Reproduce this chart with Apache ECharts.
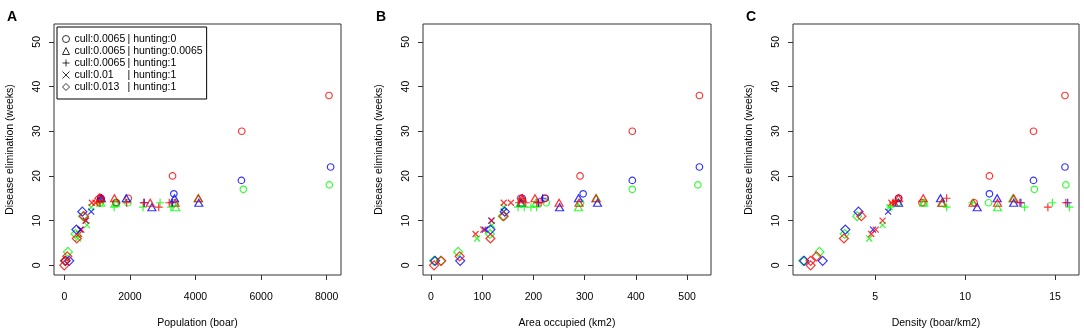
<!DOCTYPE html>
<html>
<head>
<meta charset="utf-8">
<title>Disease elimination</title>
<script src="https://cdn.jsdelivr.net/npm/echarts@6.0.0/dist/echarts.min.js"></script>
<style>
  html, body { margin: 0; padding: 0; background: #fff; }
  #myChart { width: 1084px; height: 332px; }
</style>
</head>
<body>
<div id="myChart"></div>
<script>
  // 图例名称（5种 cull/hunting 组合）
  const scenarioNames = [
    'cull:0.0065 | hunting:0',
    'cull:0.0065 | hunting:0.0065',
    'cull:0.0065 | hunting:1',
    'cull:0.01 | hunting:1',
    'cull:0.013 | hunting:1'
  ];
  // 颜色索引: 0 红, 1 蓝, 2 绿
  const pointColors = ['#ff0000', '#0000ff', '#00ff00'];

  const weekTicks = [0, 10, 20, 30, 40, 50];
  const popTicks = [0, 2000, 4000, 6000, 8000];
  const areaTicks = [0, 100, 200, 300, 400, 500];
  const densTicks = [5, 10, 15];

  // A: Population (boar)  [x, weeks, color]
  const popCircle = [[1120, 15, 0], [1570, 14, 0], [1950, 15, 0], [3300, 20, 0], [5410, 30, 0], [8070, 38, 0],
    [1110, 15, 1], [1580, 14, 1], [3340, 16, 1], [5400, 19, 1], [8120, 22, 1],
    [1090, 14, 2], [1600, 14, 2], [1940, 14, 2], [3370, 14, 2], [5460, 17, 2], [8080, 18, 2]];
  const popTriangle = [[1100, 15, 0], [1530, 15, 0], [2620, 14, 0], [3380, 14, 0], [4090, 15, 0],
    [1130, 15, 1], [1890, 15, 1], [2670, 13, 1], [3360, 15, 1], [4100, 14, 1],
    [1110, 14, 2], [1560, 14, 2], [3400, 13, 2], [4080, 15, 2]];
  const popPlus = [[1080, 14, 0], [1900, 14, 0], [2420, 14, 0], [2880, 13, 0], [3200, 14, 0],
    [1120, 15, 1], [2440, 14, 1], [3290, 14, 1],
    [1100, 14, 2], [1520, 13, 2], [2400, 13, 2], [2920, 14, 2], [3250, 13, 2]];
  const popCross = [[450, 7, 0], [520, 8, 0], [660, 10, 0], [840, 14, 0], [950, 14, 0],
    [490, 8, 1], [650, 10, 1], [820, 12, 1],
    [420, 6, 2], [690, 9, 2], [820, 13, 2]];
  const popDiamond = [[0, 0, 0], [30, 1, 0], [90, 2, 0], [380, 6, 0], [600, 11, 0], [1070, 15, 0],
    [40, 1, 1], [150, 1, 1], [370, 8, 1], [550, 12, 1],
    [20, 1, 2], [110, 3, 2], [340, 7, 2], [570, 11, 2]];

  // B: Area occupied (km2)
  const areaCircle = [[175, 15, 0], [222, 15, 0], [291, 20, 0], [393, 30, 0], [524, 38, 0],
    [178, 15, 1], [223, 15, 1], [297, 16, 1], [393, 19, 1], [524, 22, 1],
    [176, 14, 2], [225, 14, 2], [292, 14, 2], [393, 17, 2], [521, 18, 2]];
  const areaTriangle = [[178, 15, 0], [203, 15, 0], [250, 14, 0], [289, 14, 0], [322, 15, 0],
    [176, 14, 1], [251, 13, 1], [288, 15, 1], [325, 14, 1],
    [175, 14, 2], [205, 14, 2], [288, 13, 2], [323, 15, 2]];
  const areaPlus = [[172, 14, 0], [185, 14, 0], [207, 14, 0], [215, 14, 0], [178, 15, 0],
    [210, 14, 1], [218, 15, 1],
    [170, 13, 2], [182, 13, 2], [195, 13, 2], [206, 13, 2]];
  const areaCross = [[87, 7, 0], [102, 8, 0], [118, 10, 0], [142, 14, 0], [156, 14, 0],
    [105, 8, 1], [118, 10, 1], [142, 12, 1],
    [90, 6, 2], [119, 9, 2], [142, 13, 2]];
  const areaDiamond = [[6, 0, 0], [20, 1, 0], [56, 2, 0], [116, 6, 0], [142, 11, 0],
    [8, 1, 1], [57, 1, 1], [116, 8, 1], [144, 12, 1],
    [6, 1, 2], [19, 1, 2], [53, 3, 2], [115, 7, 2], [140, 11, 2]];

  // C: Density (boar/km2)
  const densCircle = [[6.3, 15, 0], [7.6, 14, 0], [10.5, 14, 0], [11.35, 20, 0], [13.8, 30, 0], [15.55, 38, 0],
    [6.3, 15, 1], [11.35, 16, 1], [13.8, 19, 1], [15.55, 22, 1],
    [6.25, 14, 2], [7.7, 14, 2], [11.3, 14, 2], [13.85, 17, 2], [15.6, 18, 2]];
  const densTriangle = [[6.3, 15, 0], [7.67, 15, 0], [8.7, 14, 0], [10.44, 14, 0], [11.8, 14, 0], [12.7, 15, 0],
    [6.3, 14, 1], [8.63, 15, 1], [10.67, 13, 1], [11.78, 15, 1], [12.7, 14, 1],
    [7.7, 14, 2], [8.75, 14, 2], [11.8, 13, 2], [12.65, 15, 2]];
  const densPlus = [[6.0, 14, 0], [8.97, 15, 0], [13.04, 14, 0], [14.6, 13, 0], [15.6, 14, 0],
    [13.1, 14, 1], [15.7, 14, 1],
    [5.85, 13, 2], [8.97, 13, 2], [10.4, 14, 2], [13.3, 13, 2], [14.85, 14, 2], [15.8, 13, 2]];
  const densCross = [[4.78, 7, 0], [5.03, 8, 0], [5.41, 10, 0], [5.9, 14, 0], [6.1, 14, 0],
    [4.88, 8, 1], [5.72, 12, 1],
    [4.67, 6, 2], [5.41, 9, 2], [5.8, 13, 2]];
  const densDiamond = [[1.41, 1, 0], [1.41, 0, 0], [1.74, 2, 0], [3.26, 6, 0], [4.23, 11, 0],
    [1.05, 1, 1], [2.08, 1, 1], [3.34, 8, 1], [4.07, 12, 1],
    [1.0, 1, 2], [1.9, 3, 2], [3.3, 7, 2], [4.0, 11, 2]];

  // 每个面板: 5个形状的数据
  const panels = [
    {letter: 'A', name: 'Population (boar)', ticks: popTicks, min: -314, max: 8436, left: 54, width: 287,
      sets: [popCircle, popTriangle, popPlus, popCross, popDiamond]},
    {letter: 'B', name: 'Area occupied (km2)', ticks: areaTicks, min: -15.6, max: 546.6, left: 423, width: 288,
      sets: [areaCircle, areaTriangle, areaPlus, areaCross, areaDiamond]},
    {letter: 'C', name: 'Density (boar/km2)', ticks: densTicks, min: 0.43, max: 16.33, left: 793, width: 286,
      sets: [densCircle, densTriangle, densPlus, densCross, densDiamond]}
  ];

  // R 的 pch 1..5
  const symbols = ['circle', 'triangle', 'path://M0,5L10,5M5,0L5,10', 'path://M0,0L10,10M10,0L0,10', 'diamond'];
  const sizes = [6.5, [8, 7], 8, 6, 9];

  const font = "'Liberation Sans', Arial, sans-serif";
  const txt = {fontFamily: font, fontSize: 10.5, color: '#000'};
  const plain = function (v) { return String(v); };

  let grids = [], xAxes = [], yAxes = [], titles = [], series = [];
  panels.forEach(function (p, i) {
    // 固定绘图区，不让 v6 自动收缩
    grids.push({left: p.left, top: 24, width: p.width, height: 251, show: true,
      outerBoundsMode: 'none', containLabel: false,
      borderColor: '#333', borderWidth: 1, backgroundColor: 'transparent'});
    titles.push({text: p.letter, left: p.left - 47, top: 10, padding: 0,
      textStyle: {fontFamily: font, fontSize: 14, fontWeight: 'bold', color: '#000'}});
    xAxes.push({
      gridIndex: i, type: 'value', min: p.min, max: p.max,
      name: p.name, nameLocation: 'middle', nameGap: 43, nameTextStyle: txt,
      axisLine: {show: false, onZero: false}, splitLine: {show: false},
      axisTick: {inside: false, customValues: p.ticks, length: 5, lineStyle: {color: '#333'}},
      axisLabel: Object.assign({customValues: p.ticks, margin: 17, formatter: plain}, txt)
    });
    yAxes.push({
      gridIndex: i, type: 'value', min: -2.17, max: 54,
      name: 'Disease elimination (weeks)', nameLocation: 'middle', nameGap: 38, nameTextStyle: txt,
      axisLine: {show: false, onZero: false}, splitLine: {show: false},
      axisTick: {inside: false, customValues: weekTicks, length: 5, lineStyle: {color: '#333'}},
      axisLabel: Object.assign({customValues: weekTicks, margin: 11, rotate: 90, formatter: plain}, txt)
    });
    p.sets.forEach(function (arr, s) {
      // 先画绿、再蓝、最后红
      const ordered = arr.slice().sort(function (a, b) { return b[2] - a[2]; });
      series.push({
        type: 'scatter', name: scenarioNames[s], xAxisIndex: i, yAxisIndex: i,
        symbol: symbols[s], symbolSize: sizes[s],
        itemStyle: {color: 'rgba(0,0,0,0)', borderWidth: 1.2},
        emphasis: {disabled: true},
        data: ordered.map(function (d) {
          return {value: [d[0], d[1]], itemStyle: {borderColor: pointColors[d[2]]}};
        })
      });
    });
  });

  let myChart = echarts.init(document.getElementById('myChart'), null, {renderer: 'canvas'});
  myChart.setOption({
    animation: false,
    backgroundColor: '#fff',
    title: titles,
    legend: {
      orient: 'vertical', left: 57, top: 27,
      padding: [6, 4, 6, 5], itemGap: 0, itemWidth: 7, itemHeight: 7,
      borderColor: '#000', borderWidth: 1, borderRadius: 0,
      selectedMode: false,
      data: scenarioNames.map(function (n, s) {
        return {name: n, icon: symbols[s],
          itemStyle: {color: 'rgba(0,0,0,0)', borderColor: '#000', borderWidth: 1}};
      }),
      formatter: function (name) {
        let parts = name.split(' | ');
        return '{a|' + parts[0] + '}{b|| ' + parts[1] + '}';
      },
      textStyle: {fontFamily: font, fontSize: 10.5, color: '#000', lineHeight: 12,
        rich: {a: {width: 53, fontFamily: font, fontSize: 10.5, lineHeight: 12},
               b: {fontFamily: font, fontSize: 10.5, lineHeight: 12}}}
    },
    grid: grids,
    xAxis: xAxes,
    yAxis: yAxes,
    series: series
  });
</script>
</body>
</html>
